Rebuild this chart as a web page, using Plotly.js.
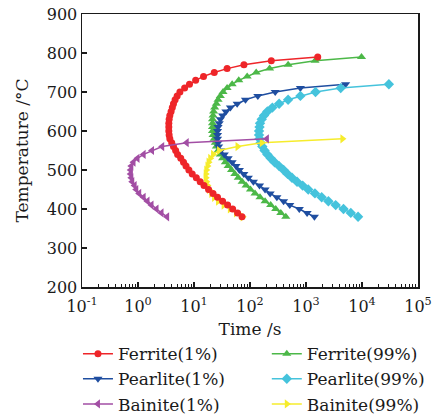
<!DOCTYPE html>
<html>
<head>
<meta charset="utf-8">
<script src="https://cdn.plot.ly/plotly-3.0.1.min.js"></script>
<style>html,body{margin:0;padding:0;background:#fff;}#chart{width:434px;height:418px;}</style>
</head>
<body>
<div id="chart"></div>
<script>
// Temperatures (°C)
const tempFerrite = [790,780,770,760,750,740,730,720,710,700,690,680,670,660,650,640,630,620,610,600,590,580,570,560,550,540,530,520,510,500,490,480,470,460,450,440,430,420,410,400,390,380];
const tempPearlite = [720,710,700,690,680,670,660,650,640,630,620,610,600,590,580,570,560,550,540,530,520,510,500,490,480,470,460,450,440,430,420,410,400,390,380];
const tempBainite = [580,570,560,550,540,530,520,510,500,490,480,470,460,450,440,430,420,410,400,390,380];

// Times (s)
const timeFerrite1 = [1620,240,78,39,23,14.8,10.7,8.3,6.8,5.6,5.0,4.6,4.3,4.1,3.9,3.7,3.6,3.55,3.55,3.55,3.6,3.7,4.0,4.3,4.7,5.1,5.8,6.5,7.2,8.1,9.3,11.0,12.9,15.1,18.2,21.9,26.3,32.4,39.8,49,60,72];
const timeFerrite99 = [9800,1450,480,224,129,89,63,48,39,33,29.5,26.9,25.1,23.4,22.4,21.9,21.4,21.4,21.4,21.4,21.9,22.9,24.0,25.1,26.9,29.5,32.4,36.3,40.7,46.8,53.7,61.7,72.4,85.1,102,123,151,186,234,288,355,436];
const timePearlite1 = [5100,794,282,138,83,59,44.7,37.2,32.4,29.5,28.2,26.9,26.3,26.3,26.3,26.9,27.5,30.2,34.7,40.7,47.9,56.2,64.6,77.6,93.3,115,148,186,229,302,398,513,759,1047,1413];
const timePearlite99 = [30200,4170,1480,794,479,331,251,204,178,162,151,148,145,145,148,155,166,182,204,234,275,331,398,468,562,692,871,1096,1445,1905,2512,3388,4677,6310,8510];
const timeBainite1 = [200,7.4,2.7,1.78,1.26,0.98,0.83,0.76,0.74,0.74,0.76,0.79,0.87,0.93,1.05,1.26,1.48,1.74,2.14,2.63,3.31];
const timeBainite99 = [4470,162,60,28,21.9,19.5,18.2,17.4,16.6,16.2,16.2,16.6,17.4,18.6,20.4,22.9,26.9,33.9,43.7,56.2,74.1];

const xTickVals = [0.1,1,10,100,1000,10000,100000];
const xTickText = ['10<sup>-1</sup>','10<sup>0</sup>','10<sup>1</sup>','10<sup>2</sup>','10<sup>3</sup>','10<sup>4</sup>','10<sup>5</sup>'];

const FONT = 'DejaVu Serif';

function tr(name, x, y, color, symbol, size, legend, rank) {
  return {
    type: 'scatter', mode: 'lines+markers', name: name, x: x, y: y,
    line: {color: color, width: 1.5},
    marker: {color: color, symbol: symbol, size: size},
    legend: legend, legendgroup: name, legendrank: rank
  };
}

const data = [
  tr('Ferrite(99%)', timeFerrite99, tempFerrite, '#4cb848', 'triangle-up', 8, 'legend2', 1),
  tr('Pearlite(1%)', timePearlite1, tempPearlite, '#1f4ea0', 'triangle-down', 8, 'legend', 2),
  tr('Pearlite(99%)', timePearlite99, tempPearlite, '#45c3dc', 'diamond', 8, 'legend2', 2),
  tr('Bainite(99%)', timeBainite99, tempBainite, '#f6ec2c', 'triangle-right', 8, 'legend2', 3),
  tr('Ferrite(1%)', timeFerrite1, tempFerrite, '#ee2529', 'circle', 7, 'legend', 1),
  tr('Bainite(1%)', timeBainite1, tempBainite, '#a24ea4', 'triangle-left', 8, 'legend', 3)
];

const legendBase = {
  orientation: 'v', xanchor: 'left', yanchor: 'top',
  font: {family: FONT, size: 17, color: '#1a1a1a'},
  bgcolor: 'rgba(0,0,0,0)', tracegroupgap: 3, traceorder: 'normal'
};

const layout = {
  width: 434, height: 418,
  margin: {l: 82, r: 16, t: 14, b: 131, autoexpand: false},
  paper_bgcolor: '#fff', plot_bgcolor: '#fff',
  font: {family: FONT, size: 16, color: '#1a1a1a'},
  showlegend: true,
  xaxis: {
    type: 'log', range: [-1, 5], tickvals: xTickVals, ticktext: xTickText,
    ticks: 'inside', ticklen: 5, tickwidth: 1.2, tickcolor: '#1a1a1a',
    minor: {ticks: 'inside', ticklen: 3, tickwidth: 1, tickcolor: '#1a1a1a', dtick: 'D1'},
    showline: true, linecolor: '#1a1a1a', linewidth: 1.5, mirror: true,
    showgrid: false, zeroline: false, automargin: false, ticklabelstandoff: 4,
    tickfont: {family: FONT, size: 16, color: '#1a1a1a'},
    title: {text: 'Time /s', font: {family: FONT, size: 17, color: '#1a1a1a'}, standoff: 8}
  },
  yaxis: {
    range: [200, 900], dtick: 100,
    ticks: 'inside', ticklen: 5, tickwidth: 1.2, tickcolor: '#1a1a1a',
    showline: true, linecolor: '#1a1a1a', linewidth: 1.5, mirror: true,
    showgrid: false, zeroline: false, automargin: false,
    tickfont: {family: FONT, size: 16, color: '#1a1a1a'},
    title: {text: 'Temperature /°C', font: {family: FONT, size: 17, color: '#1a1a1a'}, standoff: 14}
  },
  legend: Object.assign({}, legendBase, {x: -0.012, y: -0.18}),
  legend2: Object.assign({}, legendBase, {x: 0.55, y: -0.18})
};

Plotly.newPlot('chart', data, layout, {displayModeBar: false, staticPlot: true});
</script>
</body>
</html>
